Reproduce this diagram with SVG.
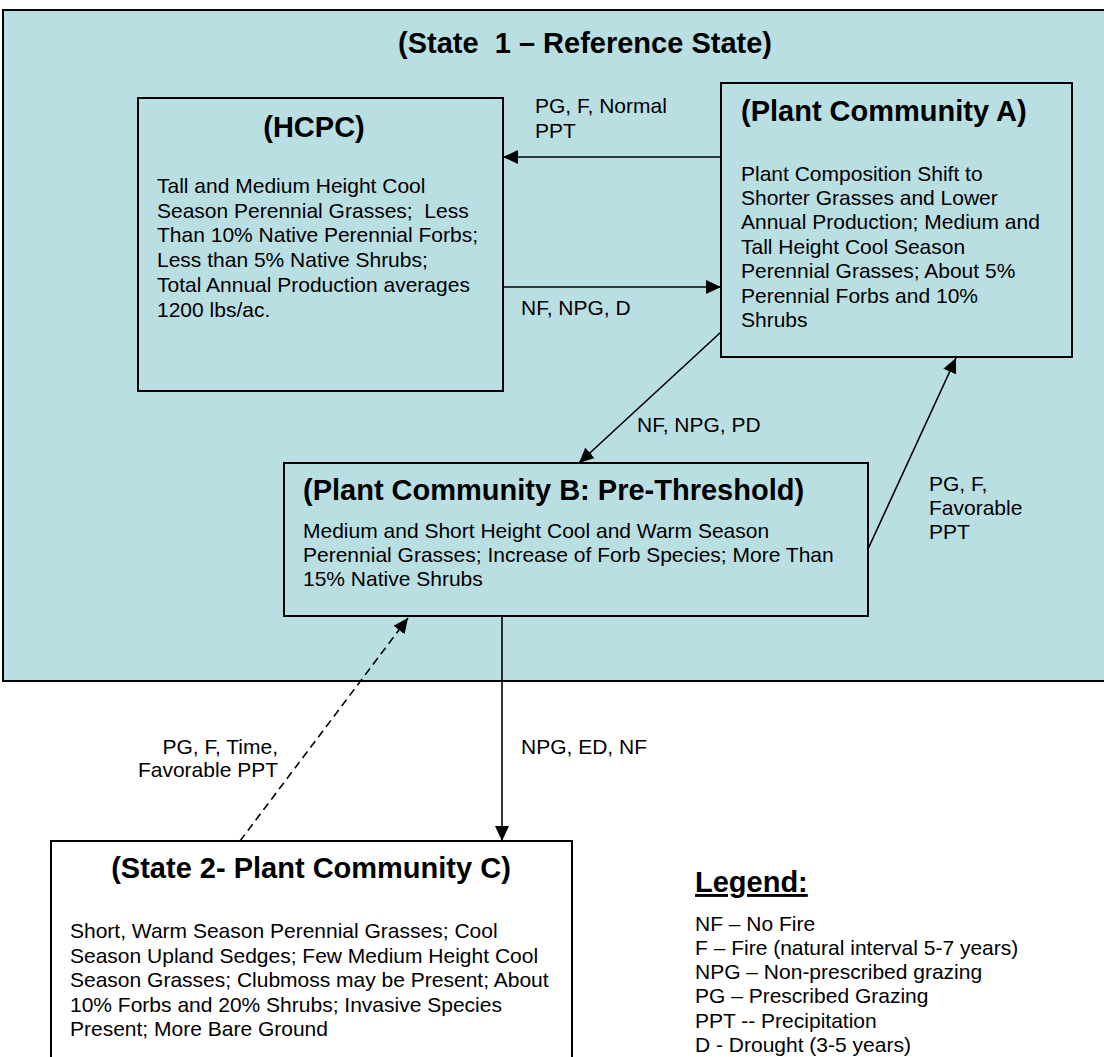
<svg xmlns="http://www.w3.org/2000/svg" width="1104" height="1057" viewBox="0 0 1104 1057">
<style>
text{font-family:"Liberation Sans",Arial,sans-serif;fill:#000}
.t{font-size:29px;font-weight:bold}
.b{font-size:21px}
.box{stroke:#000;stroke-width:2}
.teal{fill:#b9dfe3}
.con{stroke:#000;stroke-width:1.6;fill:none}
</style>
<defs>
<marker id="ah" viewBox="0 0 15 14" markerUnits="userSpaceOnUse" markerWidth="15" markerHeight="14" refX="15" refY="7" orient="auto">
<path d="M0,0 L15,7 L0,14 z" fill="#000"/>
</marker>
</defs>
<rect width="1104" height="1057" fill="#fff"/>
<g id="state1">
<rect class="box teal" x="3" y="10" width="1110" height="671"/>
<text class="t" x="585" y="53" text-anchor="middle" font-size="30" xml:space="preserve">(State  1 – Reference State)</text>
</g>
<g id="hcpc">
<rect class="box teal" x="138" y="98" width="365" height="293"/>
<text class="t" x="314" y="137" text-anchor="middle">(HCPC)</text>
<text class="b" x="157" y="193">Tall and Medium Height Cool</text>
<text class="b" x="157" y="218" xml:space="preserve">Season Perennial Grasses;  Less</text>
<text class="b" x="157" y="242">Than 10% Native Perennial Forbs;</text>
<text class="b" x="157" y="267">Less than 5% Native Shrubs;</text>
<text class="b" x="157" y="292">Total Annual Production averages</text>
<text class="b" x="157" y="317">1200 lbs/ac.</text>
</g>
<g id="pcA">
<rect class="box teal" x="721" y="83" width="351" height="274"/>
<text class="t" x="741" y="121">(Plant Community A)</text>
<text class="b" x="741" y="181">Plant Composition Shift to</text>
<text class="b" x="741" y="205">Shorter Grasses and Lower</text>
<text class="b" x="741" y="229">Annual Production; Medium and</text>
<text class="b" x="741" y="254">Tall Height Cool Season</text>
<text class="b" x="741" y="278">Perennial Grasses; About 5%</text>
<text class="b" x="741" y="303">Perennial Forbs and 10%</text>
<text class="b" x="741" y="327">Shrubs</text>
</g>
<g id="pcB">
<rect class="box teal" x="284" y="463" width="584" height="153"/>
<text class="t" x="303" y="500">(Plant Community B: Pre-Threshold)</text>
<text class="b" x="303" y="538">Medium and Short Height Cool and Warm Season</text>
<text class="b" x="303" y="562">Perennial Grasses; Increase of Forb Species; More Than</text>
<text class="b" x="303" y="586">15% Native Shrubs</text>
</g>
<g id="pcC">
<rect class="box" fill="#fff" x="51" y="841" width="521" height="240"/>
<text class="t" x="311" y="878" text-anchor="middle">(State 2- Plant Community C)</text>
<text class="b" x="70" y="938">Short, Warm Season Perennial Grasses; Cool</text>
<text class="b" x="70" y="963">Season Upland Sedges; Few Medium Height Cool</text>
<text class="b" x="70" y="987">Season Grasses; Clubmoss may be Present; About</text>
<text class="b" x="70" y="1012">10% Forbs and 20% Shrubs; Invasive Species</text>
<text class="b" x="70" y="1036">Present; More Bare Ground</text>
</g>
<g id="connectors">
<line class="con" x1="721" y1="157" x2="503" y2="157" marker-end="url(#ah)"/>
<line class="con" x1="503" y1="287" x2="721" y2="287" marker-end="url(#ah)"/>
<line class="con" x1="721" y1="332" x2="579" y2="463" marker-end="url(#ah)"/>
<line class="con" x1="868" y1="549" x2="956" y2="358" marker-end="url(#ah)"/>
<line class="con" x1="502" y1="616" x2="502" y2="841" marker-end="url(#ah)"/>
<line class="con" x1="240" y1="841" x2="408" y2="618" stroke-dasharray="8 5" marker-end="url(#ah)"/>
</g>
<g id="labels">
<text class="b" x="535" y="113">PG, F, Normal</text>
<text class="b" x="535" y="138">PPT</text>
<text class="b" x="521" y="315">NF, NPG, D</text>
<text class="b" x="637" y="432">NF, NPG, PD</text>
<text class="b" x="929" y="491">PG, F,</text>
<text class="b" x="929" y="515">Favorable</text>
<text class="b" x="929" y="539">PPT</text>
<text class="b" x="278" y="754" text-anchor="end">PG, F, Time,</text>
<text class="b" x="278" y="777" text-anchor="end">Favorable PPT</text>
<text class="b" x="521" y="754">NPG, ED, NF</text>
</g>
<g id="legend">
<text class="t" x="695" y="892" text-decoration="underline">Legend:</text>
<text class="b" x="695" y="931">NF – No Fire</text>
<text class="b" x="695" y="955">F – Fire (natural interval 5-7 years)</text>
<text class="b" x="695" y="979">NPG – Non-prescribed grazing</text>
<text class="b" x="695" y="1003">PG – Prescribed Grazing</text>
<text class="b" x="695" y="1028">PPT -- Precipitation</text>
<text class="b" x="695" y="1052">D - Drought (3-5 years)</text>
</g>
</svg>
